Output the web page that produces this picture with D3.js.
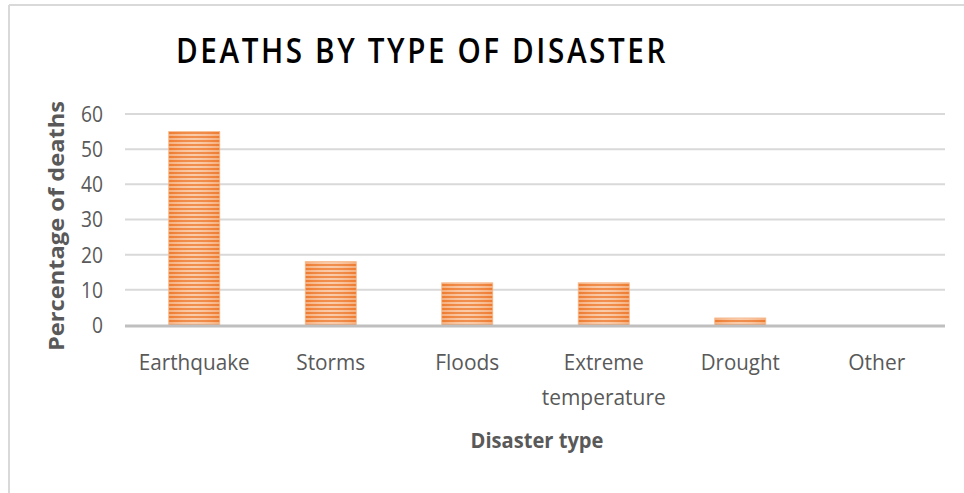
<!DOCTYPE html>
<html>
<head>
<meta charset="utf-8">
<script src="https://cdn.jsdelivr.net/npm/d3@7"></script>
<style>
html,body{margin:0;padding:0;background:#fff;}
svg{display:block;}
</style>
</head>
<body>
<svg id="chart" width="964" height="493"></svg>
<script>
const categories = ["Earthquake", "Storms", "Floods", "Extreme temperature", "Drought", "Other"];
const values = [55, 18, 12, 12, 2, 0];
const yTicks = [0, 10, 20, 30, 40, 50, 60];
const title = "DEATHS BY TYPE OF DISASTER";
const yTitle = "Percentage of deaths";
const xTitle = "Disaster type";

const svg = d3.select("#chart");
const W = 964, H = 493;
const m = {left: 126, right: 19, top: 114, bottom: 168};

// frame
svg.append("line").attr("x1", 9).attr("x2", W).attr("y1", 5).attr("y2", 5)
  .attr("stroke", "#d9d9d9").attr("stroke-width", 2);
svg.append("line").attr("x1", 9).attr("x2", 9).attr("y1", 5).attr("y2", H)
  .attr("stroke", "#d9d9d9").attr("stroke-width", 2);

// pattern
const defs = svg.append("defs");
const pat = defs.append("pattern").attr("id", "stripes").attr("patternUnits", "userSpaceOnUse")
  .attr("width", 8).attr("height", 4);
pat.append("rect").attr("width", 8).attr("height", 4).attr("fill", "#f9c39c");
pat.append("rect").attr("y", 0).attr("width", 8).attr("height", 2).attr("fill", "#ee7a2e");
const grad = defs.append("linearGradient").attr("id", "shine").attr("x1", 0).attr("x2", 1).attr("y1", 0).attr("y2", 0);
grad.append("stop").attr("offset", "0%").attr("stop-color", "#ed7d31").attr("stop-opacity", 0.3);
grad.append("stop").attr("offset", "50%").attr("stop-color", "#ffffff").attr("stop-opacity", 0.15);
grad.append("stop").attr("offset", "100%").attr("stop-color", "#ed7d31").attr("stop-opacity", 0.3);

const x = d3.scaleBand().domain(categories).range([m.left, W - m.right]).paddingInner(0.626).paddingOuter(0.313);
const y = d3.scaleLinear().domain([0, 60]).range([H - m.bottom, m.top]);

// gridlines
svg.append("g").selectAll("line").data(yTicks.filter(d => d > 0)).join("line")
  .attr("x1", m.left - 1).attr("x2", W - m.right)
  .attr("y1", d => y(d)).attr("y2", d => y(d))
  .attr("stroke", "#d9d9d9").attr("stroke-width", 2);

// y tick labels
svg.append("g").selectAll("text").data(yTicks).join("text")
  .attr("x", 103).attr("y", d => y(d)).attr("dy", "0.36em")
  .attr("text-anchor", "end")
  .attr("font-family", "Open Sans, sans-serif").attr("font-size", 22)
  .attr("fill", "#595959")
  .attr("textLength", d => String(d).length * 11).attr("lengthAdjust", "spacingAndGlyphs")
  .text(d => d);

// bars
const bars = svg.append("g");
bars.selectAll("rect.b").data(categories).join("rect").attr("class", "b")
  .attr("x", d => x(d)).attr("width", x.bandwidth())
  .attr("y", (d, i) => y(values[i])).attr("height", (d, i) => y(0) - y(values[i]))
  .attr("fill", "url(#stripes)");
bars.selectAll("rect.s").data(categories).join("rect").attr("class", "s")
  .attr("x", d => x(d)).attr("width", x.bandwidth())
  .attr("y", (d, i) => y(values[i])).attr("height", (d, i) => y(0) - y(values[i]))
  .attr("fill", "url(#shine)").attr("stroke", "#f6b88c").attr("stroke-width", 0.8);

// baseline
svg.append("line").attr("x1", m.left - 1).attr("x2", W - m.right)
  .attr("y1", y(0) + 1).attr("y2", y(0) + 1)
  .attr("stroke", "#bfbfbf").attr("stroke-width", 3);

// x labels
const labelWidths = {"Earthquake": 111, "Storms": 69, "Floods": 64, "Extreme": 80, "temperature": 124, "Drought": 79, "Other": 57};
const xl = svg.append("g").selectAll("text").data(categories).join("text")
  .attr("x", d => x(d) + x.bandwidth() / 2).attr("y", 370)
  .attr("text-anchor", "middle")
  .attr("font-family", "Open Sans, sans-serif").attr("font-size", 21)
  .attr("fill", "#595959");
xl.each(function(d) {
  const t = d3.select(this);
  const parts = d === "Extreme temperature" ? ["Extreme", "temperature"] : [d];
  parts.forEach((p, i) => {
    t.append("tspan").attr("x", x(d) + x.bandwidth() / 2).attr("dy", i === 0 ? 0 : 35)
      .attr("textLength", labelWidths[p]).attr("lengthAdjust", "spacingAndGlyphs").text(p);
  });
});

// title
svg.append("text").attr("x", 176).attr("y", 63)
  .attr("font-family", "Open Sans, sans-serif").attr("font-weight", 600)
  .attr("font-size", 34).attr("letter-spacing", 3)
  .attr("textLength", 492).attr("lengthAdjust", "spacingAndGlyphs")
  .attr("fill", "#000").text(title);

// y axis title
svg.append("text").attr("transform", "translate(64,226) rotate(-90)")
  .attr("text-anchor", "middle")
  .attr("font-family", "Open Sans, sans-serif").attr("font-weight", "bold")
  .attr("font-size", 21).attr("fill", "#595959")
  .attr("textLength", 250).attr("lengthAdjust", "spacingAndGlyphs")
  .text(yTitle);

// x axis title
svg.append("text").attr("x", 537).attr("y", 448)
  .attr("text-anchor", "middle")
  .attr("font-family", "Open Sans, sans-serif").attr("font-weight", "bold")
  .attr("font-size", 21).attr("fill", "#595959")
  .attr("textLength", 133).attr("lengthAdjust", "spacingAndGlyphs")
  .text(xTitle);
</script>
</body>
</html>
